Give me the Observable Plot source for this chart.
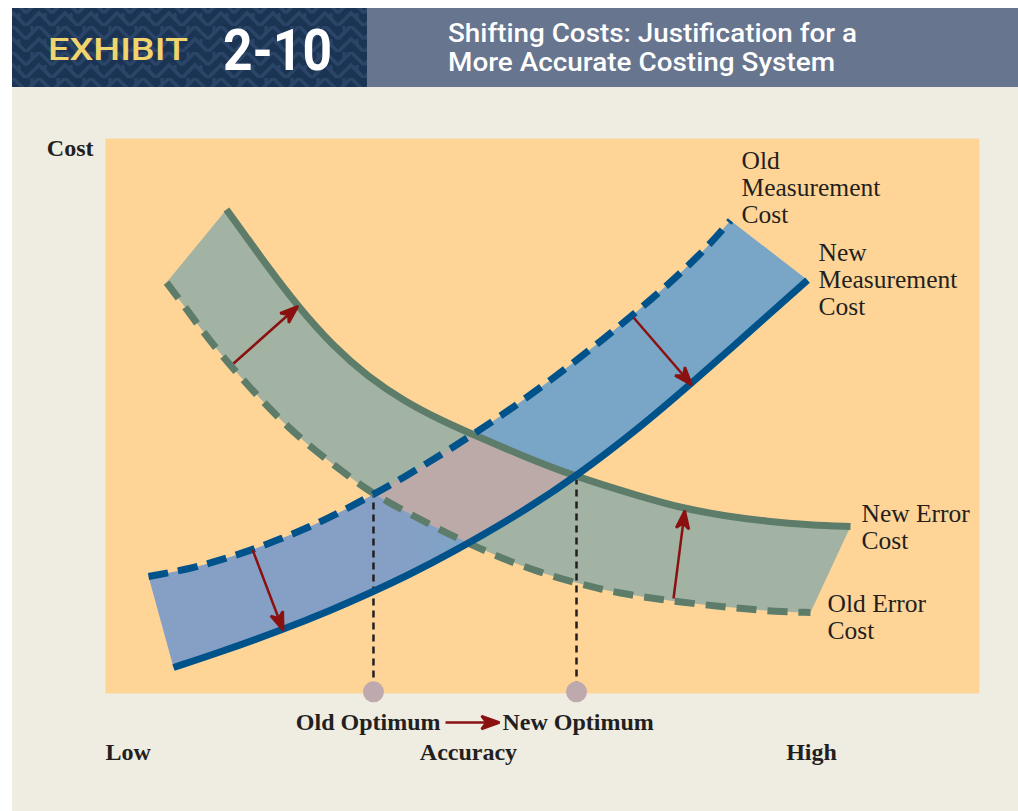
<!DOCTYPE html>
<html>
<head>
<meta charset="utf-8">
<script src="https://cdn.jsdelivr.net/npm/d3@7"></script>
<script src="https://cdn.jsdelivr.net/npm/@observablehq/plot@0.6"></script>
<style>
  html, body { margin: 0; padding: 0; background: #ffffff; }
  #page { position: relative; width: 1018px; height: 811px; overflow: hidden; }
  #header { position: absolute; left: 0; top: 0; }
  #panel { position: absolute; left: 12px; top: 87px; width: 1006px; height: 724px; background: #efece2; }
  #chart { position: absolute; left: 0; top: 87px; }
</style>
</head>
<body>
<div id="page">
  <svg id="header" width="1018" height="87" xmlns="http://www.w3.org/2000/svg">
    <defs>
      <pattern id="maze" width="26" height="26" patternUnits="userSpaceOnUse">
        <rect width="26" height="26" fill="#1c3454"/>
        <path d="M0,13 L13,0 L26,13 M0,26 L13,13 L26,26" fill="none" stroke="#2a4568" stroke-width="3.5"/>
        <path d="M6,0 L6,6 M19,13 L19,19" fill="none" stroke="#2a4568" stroke-width="3"/>
      </pattern>
    </defs>
    <rect x="12" y="8" width="1006" height="79" fill="#67758f"/>
    <rect x="12" y="8" width="355" height="79" fill="url(#maze)"/>
    <text x="48" y="60" fill="#f2d46c" font-family="Roboto, Liberation Sans, Arial, sans-serif" font-weight="500" font-size="31" textLength="140" lengthAdjust="spacingAndGlyphs">EXHIBIT</text>
    <text x="223" y="70" fill="#ffffff" font-family="Roboto, Liberation Sans, Arial, sans-serif" font-weight="bold" font-size="58" textLength="109" lengthAdjust="spacingAndGlyphs">2-10</text>
    <text x="448" y="42" fill="#ffffff" font-family="Roboto, Liberation Sans, Arial, sans-serif" font-weight="500" font-size="26" textLength="409" lengthAdjust="spacingAndGlyphs">Shifting Costs: Justification for a</text>
    <text x="448" y="71" fill="#ffffff" font-family="Roboto, Liberation Sans, Arial, sans-serif" font-weight="500" font-size="26" textLength="387" lengthAdjust="spacingAndGlyphs">More Accurate Costing System</text>
  </svg>
  <div id="panel"></div>
  <div id="chart"></div>
</div>
<script>
// ---- Data (accuracy 0–100 on x, cost 0–100 on y) ----
const oldErrorCost = [
  [6.98,74.05],[9.15,69.55],[11.21,65.05],[13.50,60.54],[16.02,56.04],[18.31,52.07],
  [20.94,47.93],[23.68,44.14],[26.89,40.27],[29.52,37.12],[32.61,34.23],[35.81,31.53],
  [39.13,28.83],[42.56,26.31],[46.00,23.96],[49.43,21.98],[52.86,20.36],[56.29,18.92],
  [59.73,17.84],[63.50,16.94],[68.08,16.04],[72.65,15.32],[76.66,14.77],[80.66,14.59]
];
const newErrorCost = [
  [13.84,87.21],[16.25,81.98],[18.54,76.94],[21.97,69.82],[26.09,62.52],[29.98,57.12],
  [34.32,52.52],[38.33,49.28],[41.76,46.85],[47.48,42.97],[53.55,39.19],[61.21,35.50],
  [66.13,33.33],[70.94,31.98],[75.74,30.99],[80.66,30.36],[85.24,30.09]
];
const oldMeasurementCost = [
  [4.92,21.08],[9.61,22.43],[13.16,24.05],[16.59,25.77],[20.02,27.84],[23.46,30.09],
  [26.89,32.70],[30.32,35.59],[33.75,38.56],[39.47,44.05],[45.19,49.91],[50.92,56.40],
  [56.64,63.42],[62.36,70.81],[68.08,79.01],[71.51,85.23]
];
const newMeasurementCost = [
  [7.78,4.68],[13.16,7.48],[20.02,11.35],[25.74,14.95],[30.66,18.38],[34.55,21.26],
  [39.47,25.23],[47.83,32.79],[54.00,39.28],[61.21,48.02],[66.70,55.41],[73.80,65.32],
  [80.32,74.50]
];
// shift arrows: [x1, y1, x2, y2]
const shiftArrows = [
  [14.65,59.46,21.85,69.55],
  [16.82,25.95,20.25,11.71],
  [60.41,67.75,66.93,55.86],
  [64.99,17.12,66.25,32.60],
  [38.90,-5.23,44.85,-5.23]
];
const optimumNames = ["Old Optimum", "New Optimum"];
const optimumAccuracy = [30.66, 53.89];
const optimumCost = [36.58, 38.92];
const curveLabels = ["Old\nMeasurement\nCost", "New\nMeasurement\nCost", "New Error\nCost", "Old Error\nCost"];
const curveLabelX = [72.77, 81.58, 86.50, 82.61];
const curveLabelY = [91.17, 74.59, 30.0, 13.78];
const axisLabels = ["Low", "Accuracy", "High"];
const axisLabelX = [0, 41.53, 80.78];
const axisLabelY = -10.63;
const optimumLabelY = -5.23;
const optimumLabelX = [38.33, 45.42];

// ---- Styles ----
const ORANGE = "#fed597", GREEN_FILL = "#a2b3a3", PINK = "#bcaaa9";
const GREEN = "#5d7c6a", BLUE = "#00528a", RED = "#8b1010", INK = "#231f20", DOT = "#bda9ae";

const greenBand = [...newErrorCost, ...oldErrorCost.slice().reverse()];
const blueBand = [...oldMeasurementCost, ...newMeasurementCost.slice().reverse()];
const X = d => d[0], Y = d => d[1];

// closed band: smooth basis along each curve, straight edges at the ends
function bandCurve(n) {
  return function (context) {
    let pts = [];
    return {
      areaStart() {}, areaEnd() {},
      lineStart() { pts = []; },
      point(x, y) { pts.push([+x, +y]); },
      lineEnd() {
        const a = d3.curveBasis(context);
        a.lineStart(); pts.slice(0, n).forEach(p => a.point(p[0], p[1])); a.lineEnd();
        const b = d3.curveBasis(context);
        b._line = 1;
        b.lineStart(); pts.slice(n).forEach(p => b.point(p[0], p[1])); b.lineEnd();
      }
    };
  };
}

function barb(color, context) {
  const ns = "http://www.w3.org/2000/svg";
  const doc = (context && context.document) || document;
  const m = doc.createElementNS(ns, "marker");
  m.setAttribute("viewBox", "-17 -8 20 16");
  m.setAttribute("markerWidth", "20");
  m.setAttribute("markerHeight", "16");
  m.setAttribute("markerUnits", "userSpaceOnUse");
  m.setAttribute("orient", "auto");
  m.setAttribute("refX", "0");
  m.setAttribute("refY", "0");
  const p = doc.createElementNS(ns, "path");
  p.setAttribute("d", "M2,0 L-16,-6.5 L-11,0 L-16,6.5 Z");
  p.setAttribute("fill", color);
  m.appendChild(p);
  return m;
}

function gradientDefs() {
  const defs = d3.create("svg:defs");
  const g = defs.append("linearGradient").attr("id", "blueGrad")
    .attr("x1", "0").attr("y1", "0").attr("x2", "1").attr("y2", "0");
  g.append("stop").attr("offset", "0.38").attr("stop-color", "#86a0c5");
  g.append("stop").attr("offset", "0.55").attr("stop-color", "#79a6c6");
  return defs.node();
}

function build(useMarker) {
  const arrowMark = useMarker
    ? Plot.link(shiftArrows, {x1: d => d[0], y1: d => d[1], x2: d => d[2], y2: d => d[3], stroke: RED, strokeWidth: 2.5, markerEnd: barb})
    : Plot.arrow(shiftArrows, {x1: d => d[0], y1: d => d[1], x2: d => d[2], y2: d => d[3], stroke: RED, strokeWidth: 2.5, headLength: 14});
  const bold = {fontSize: 24, fontWeight: "bold", fill: INK};
  return Plot.plot({
    width: 1018,
    height: 724,
    marginLeft: 105,
    marginRight: 39,
    marginTop: 51,
    marginBottom: 118,
    x: {domain: [0, 100], axis: null},
    y: {domain: [0, 100], axis: null},
    style: {background: "transparent", fontFamily: "Liberation Serif, 'DejaVu Serif', serif", overflow: "visible"},
    marks: [
      gradientDefs,
      Plot.frame({fill: ORANGE, stroke: "none"}),
      Plot.line(greenBand, {x: X, y: Y, fill: GREEN_FILL, stroke: "none", curve: bandCurve(newErrorCost.length)}),
      Plot.line(blueBand, {x: X, y: Y, fill: "url(#blueGrad)", stroke: "none", curve: bandCurve(oldMeasurementCost.length)}),
      Plot.line(greenBand, {x: X, y: Y, fill: PINK, stroke: "none", curve: bandCurve(newErrorCost.length)}),
      Plot.link(optimumAccuracy, {x1: d => d, x2: d => d, y1: (d, i) => optimumCost[i], y2: 0, stroke: INK, strokeWidth: 2.5, strokeDasharray: "7,5"}),
      Plot.line(oldErrorCost, {x: X, y: Y, stroke: GREEN, strokeWidth: 7, strokeDasharray: "20,11", curve: "basis", strokeLinecap: "butt"}),
      Plot.line(newErrorCost, {x: X, y: Y, stroke: GREEN, strokeWidth: 7, curve: "basis", strokeLinecap: "butt"}),
      Plot.line(oldMeasurementCost, {x: X, y: Y, stroke: BLUE, strokeWidth: 7, strokeDasharray: "20,10", curve: "basis", strokeLinecap: "butt"}),
      Plot.line(newMeasurementCost, {x: X, y: Y, stroke: BLUE, strokeWidth: 7, curve: "basis", strokeLinecap: "butt"}),
      arrowMark,
      Plot.dot(optimumAccuracy, {x: d => d, y: 0.3, r: 10.5, fill: DOT, stroke: "none"}),
      Plot.text(curveLabels, {x: (d, i) => curveLabelX[i], y: (d, i) => curveLabelY[i], text: d => d, textAnchor: "start", lineAnchor: "middle", lineHeight: 1.06, fontSize: 25.5, fill: INK}),
      Plot.text(optimumNames.slice(0, 1), {x: optimumLabelX[0], y: optimumLabelY, text: d => d, textAnchor: "end", ...bold}),
      Plot.text(optimumNames.slice(1), {x: optimumLabelX[1], y: optimumLabelY, text: d => d, textAnchor: "start", ...bold}),
      Plot.text(axisLabels.slice(0, 1), {x: axisLabelX[0], y: axisLabelY, text: d => d, textAnchor: "start", ...bold}),
      Plot.text(axisLabels.slice(1), {x: (d, i) => axisLabelX[i + 1], y: axisLabelY, text: d => d, textAnchor: "middle", ...bold}),
      Plot.text(["Cost"], {x: 0, y: 98.2, dx: -12, text: d => d, textAnchor: "end", ...bold})
    ]
  });
}

let svg;
try { svg = build(true); } catch (e) { svg = build(false); }

// clip the overlap band to the blue band
(function () {
  const ns = "http://www.w3.org/2000/svg";
  const blueG = svg.querySelector('g[fill="url(#blueGrad)"]');
  const pinkG = svg.querySelector('g[fill="' + PINK + '"]');
  if (!blueG || !pinkG) return;
  const bp = blueG.querySelector("path");
  const pp = pinkG.querySelector("path");
  const cp = document.createElementNS(ns, "clipPath");
  cp.setAttribute("id", "blueClip");
  const c = document.createElementNS(ns, "path");
  c.setAttribute("d", bp.getAttribute("d"));
  cp.appendChild(c);
  svg.insertBefore(cp, svg.firstChild);
  pp.setAttribute("clip-path", "url(#blueClip)");
})();

document.getElementById("chart").appendChild(svg);
</script>
</body>
</html>
